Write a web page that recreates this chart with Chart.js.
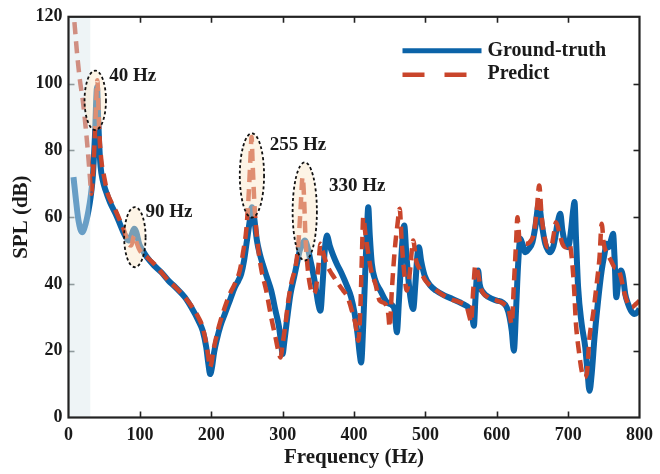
<!DOCTYPE html>
<html><head><meta charset="utf-8">
<script src="https://cdn.jsdelivr.net/npm/chart.js@4.4.1/dist/chart.umd.min.js"></script>
<style>html,body{margin:0;padding:0;background:#fff;}#wrap{width:660px;height:474px;}</style>
</head><body><div id="wrap"><canvas id="c" width="660" height="474"></canvas></div>
<script>
// ---- data ----
const gtFreq = [7,10,14,19,24,28,31,34,37,40,41.5,43,45,48,52,58,66,72,78,84,88,92,95,99,104,110,120,130,140,150,163,172,182,188,193,196,198.5,201,204,208,213,219,226,233,238,242,246,250,254,257,260,264,268,272,278,284,290,295,298,300,302,306,311,316,320,324,328,331,335,339,343,347,350,353,356,359,362,366,371,376,383,390,396,401,405,408,410,413,416,418.5,420,422,425,430,437,446,454,457,460,463,466,469,470.5,473,476,479,483,486,489,491,494,499,507,515,527,538,548,557,562,565,568,570,572,574,576,581,589,600,608,614,618,621,624,627,630,633,636,640,645,650,654,659,663,668,672,675,679,682,685,689,692,696,700,704,707,709,711,714,719,724,727,730,733,737,742,747,751,754,757,760,763,765,767.5,770,774,777,780,784,788,793,797,800];
const gtSPL  = [72,66,59,55.5,58,62,66,72,84,99,90,82,75,71,68,64.5,61,58,55,53,54.5,56.5,55.5,52,50,48,45.5,43.5,41,39,36,33,29,26,21,16,13,15,19.5,23.5,27.5,31,35,39,41,43,47,53,59,63,60,53,49,46,42,38,32,27,22,19,22,29,37,42,46,50,52,53,51,47,43,38,34,32,40,50,54.5,51.5,48.5,46,43,39.5,36,31,25,19,16.5,28,45,58,63,55,46,41,38,34.5,33.5,32,25.5,35,47,56,57.5,50,42,36,32.5,40,49,51,47,42.5,39.5,38,36.5,35.5,34.5,33.5,32.5,31,27.5,35,42,44,40,37.5,36,35,34.5,33,30,26,20,32,46,53.5,52,49.5,50.5,52.5,57,64,58,52,50,49.5,51,54,58,61,56,52,51,56,62,64.5,54,39,28,21,14,8,13,24,35,44,49,52,51,53,55,48,36,40,44,42,37,34,32,31,31.5,32.5];
const predFreq = [5,8,12,16,20,24,27,30,32,34,36,38,40.5,42,43.5,46,50,55,60,66,72,78,84,88,91,93,96,100,110,120,130,140,150,163,172,182,188,193,196,198,200,203,208,213,219,226,233,240,245,249,252,255,256.5,258,261,265,270,277,284,290,295,297,300,304,308,313,318,322,325,328,330,332,335,338,342,346,350,353,356,360,366,372,378,385,391,397,402,406,409,411,413,416,420,424,430,436,444,448,450,453,457,461,464,467,471,474,478,481,483,487,492,500,510,522,535,548,558,562,564,567,570,573,578,588,600,610,617,621,624,627,629,632,636,642,648,652,656,659.5,663,667,671,676,680,683,687,692,697,702,705,708,711,715,719,722,726,730,735,740,744,747,750,755,760,765,770,774,778,784,789,795,800];
const predSPL  = [124,119,109,101,95,87,80,72,67,72,80,90,101,92,84,77,72,67,64.5,62,59,56,52,51.5,54,54.5,52,50,48,46,43.5,41,39,36,33.5,30,27,22,18,15,16,20,25,29,33,37,40,44,50,56,65,78,84,76,62,52,44.5,38,30,24,19,18,22,28,35,41,45,52,62,72,66,54,45,40,37,38,45,52,50,47,44,42,40,38,36,32,28,23,33,48,60,55,49,44,40,35,34,31,27,38,50,58,62.5,52,42,38,43,50,53,47,44.5,41,39,37,35.5,34.5,33,30,28.5,38,45.5,44,38.5,36,35,34,32,28,40,52,60,53,52,52,53,55,62,69.5,60,54,51,51,55,58.5,56,52,51,52,48,40,28,20,14,12,13,24,31,40,48,58,52,49,47,45,44.5,42,38,34,33,34,35];
const xTickValues = [0,100,200,300,400,500,600,700,800];
const yTickValues = [0,20,40,60,80,100,120];
const seriesNames = ['Ground-truth','Predict'];
const peakLabels = ['40 Hz','90 Hz','255 Hz','330 Hz'];
const peakLabelX = [57,108,282,365];
const peakLabelY = [102.2,61.4,81.5,69.2];
const ellipseCX = [37.5,93,257,331];
const ellipseCY = [95,54,72.5,61.7];
const ellipseRX = [15,15,17,17];
const ellipseRY = [8.9,9,12.6,14.7];
const shadeMaxFreq = 30.5;

const BLUE = '#0b63a8';
const RED = '#c9452b';
const FONT = '"Liberation Serif","Times New Roman",serif';

const toXY = (xs, ys) => xs.map((x, i) => ({x: x, y: ys[i]}));

const decorPlugin = {
  id: 'decor',
  afterDatasetsDraw(chart) {
    const {ctx, chartArea: a, scales: {x, y}} = chart;
    ctx.save();
    // shaded low-frequency band
    const xs = x.getPixelForValue(shadeMaxFreq);
    ctx.fillStyle = 'rgba(218,231,234,0.45)';
    ctx.fillRect(a.left, a.top, xs - a.left, a.bottom - a.top);
    // highlight ellipses
    for (let i = 0; i < ellipseCX.length; i++) {
      const cx = x.getPixelForValue(ellipseCX[i]);
      const cy = y.getPixelForValue(ellipseCY[i]);
      const rx = Math.abs(x.getPixelForValue(ellipseCX[i] + ellipseRX[i]) - cx);
      const ry = Math.abs(y.getPixelForValue(ellipseCY[i] + ellipseRY[i]) - cy);
      ctx.beginPath();
      ctx.ellipse(cx, cy, rx, ry, 0, 0, Math.PI * 2);
      ctx.fillStyle = 'rgba(251,231,200,0.45)';
      ctx.fill();
      ctx.setLineDash([3, 2.5]);
      ctx.lineWidth = 1.8;
      ctx.strokeStyle = '#111';
      ctx.stroke();
      ctx.setLineDash([]);
    }
    // peak labels
    ctx.fillStyle = '#1a1a1a';
    ctx.font = 'bold 19px ' + FONT;
    ctx.textAlign = 'left';
    ctx.textBaseline = 'middle';
    for (let i = 0; i < peakLabels.length; i++) {
      ctx.fillText(peakLabels[i], x.getPixelForValue(peakLabelX[i]), y.getPixelForValue(peakLabelY[i]));
    }
    ctx.restore();
  },
  afterDraw(chart) {
    const {ctx, chartArea: a, scales: {x, y}} = chart;
    ctx.save();
    const tl = 6;
    ctx.lineWidth = 1.6;
    // inward ticks
    xTickValues.forEach(v => {
      if (v === 0 || v === 800) return;
      const px = Math.round(x.getPixelForValue(v)) + 0.5;
      ctx.strokeStyle = '#222';
      ctx.beginPath();
      ctx.moveTo(px, a.bottom); ctx.lineTo(px, a.bottom - tl);
      ctx.moveTo(px, a.top); ctx.lineTo(px, a.top + tl);
      ctx.stroke();
    });
    yTickValues.forEach(v => {
      if (v === 0 || v === 120) return;
      const py = Math.round(y.getPixelForValue(v)) + 0.5;
      ctx.strokeStyle = '#8f9a9d';
      ctx.beginPath();
      ctx.moveTo(a.left, py); ctx.lineTo(a.left + tl, py);
      ctx.stroke();
      ctx.strokeStyle = '#222';
      ctx.beginPath();
      ctx.moveTo(a.right, py); ctx.lineTo(a.right - tl, py);
      ctx.stroke();
    });
    // axes box
    ctx.strokeStyle = '#222';
    ctx.lineWidth = 2.2;
    ctx.strokeRect(a.left, a.top, a.right - a.left, a.bottom - a.top);
    // legend
    const lx0 = a.right - 237, lx1 = a.right - 158, tx = a.right - 152;
    const r1 = a.top + 34, r2 = a.top + 58;
    ctx.lineCap = 'butt';
    ctx.strokeStyle = BLUE;
    ctx.lineWidth = 5;
    ctx.beginPath(); ctx.moveTo(lx0, r1); ctx.lineTo(lx1, r1); ctx.stroke();
    ctx.strokeStyle = RED;
    ctx.lineWidth = 4.5;
    ctx.beginPath();
    ctx.moveTo(lx0, r2); ctx.lineTo(lx0 + 22, r2);
    ctx.moveTo(lx0 + 42, r2); ctx.lineTo(lx0 + 64, r2);
    ctx.stroke();
    ctx.fillStyle = '#1a1a1a';
    ctx.font = 'bold 20px ' + FONT;
    ctx.textAlign = 'left';
    ctx.textBaseline = 'middle';
    ctx.fillText(seriesNames[0], tx, r1);
    ctx.fillText(seriesNames[1], tx, r2 - 1);
    ctx.restore();
  }
};

new Chart(document.getElementById('c'), {
  type: 'line',
  data: {
    datasets: [
      {label: seriesNames[0], data: toXY(gtFreq, gtSPL), borderColor: BLUE, borderWidth: 6,
       pointRadius: 0, fill: false, cubicInterpolationMode: 'monotone', order: 2, borderJoinStyle: 'round'},
      {label: seriesNames[1], data: toXY(predFreq, predSPL), borderColor: RED, borderWidth: 4.5,
       borderDash: [12, 7], pointRadius: 0, fill: false, cubicInterpolationMode: 'monotone', order: 1}
    ]
  },
  options: {
    responsive: false,
    animation: false,
    devicePixelRatio: 1,
    layout: {padding: {left: 0, right: 15, top: 16, bottom: 0}},
    plugins: {legend: {display: false}, tooltip: {enabled: false}},
    scales: {
      x: {
        type: 'linear', min: 0, max: 800,
        afterFit: s => { s.height = 56.5; },
        afterBuildTicks: s => { s.ticks = xTickValues.map(v => ({value: v})); },
        grid: {display: false, drawTicks: false},
        border: {display: false},
        ticks: {font: {family: FONT, size: 18, weight: 'bold'}, color: '#1a1a1a', padding: 7, maxRotation: 0, autoSkip: false},
        title: {display: true, text: 'Frequency (Hz)', font: {family: FONT, size: 21, weight: 'bold'}, color: '#1a1a1a', padding: {top: 0, bottom: 4}}
      },
      y: {
        min: 0, max: 120,
        afterFit: s => { s.width = 68.5; },
        afterBuildTicks: s => { s.ticks = yTickValues.map(v => ({value: v})); },
        grid: {display: false, drawTicks: false},
        border: {display: false},
        ticks: {font: {family: FONT, size: 18, weight: 'bold'}, color: '#1a1a1a', padding: 6},
        title: {display: true, text: 'SPL (dB)', font: {family: FONT, size: 21, weight: 'bold'}, color: '#1a1a1a', padding: {top: 9, bottom: 0}}
      }
    }
  },
  plugins: [decorPlugin]
});
</script></body></html>
